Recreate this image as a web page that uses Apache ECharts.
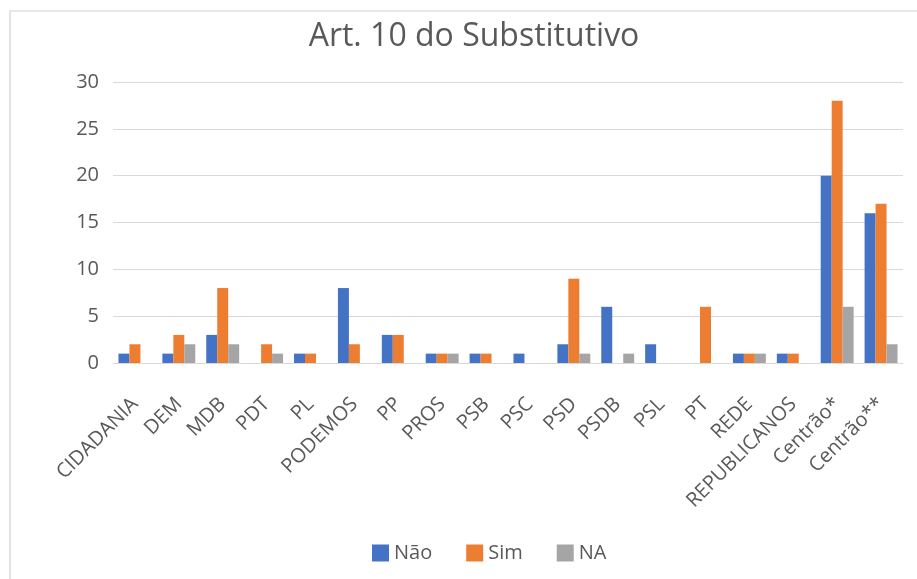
<!DOCTYPE html>
<html>
<head>
<meta charset="utf-8">
<script src="https://cdn.jsdelivr.net/npm/echarts@6/dist/echarts.min.js"></script>
<style>
    html, body {
        margin: 0;
        padding: 0;
        background: #fff;
    }
    .frame {
        position: absolute;
        left: 9px;
        top: 10px;
        right: 0;
        bottom: 0;
        border-left: 2px solid #e3e3e3;
        border-top: 2px solid #e8e8e8;
    }
    #chart {
        position: absolute;
        left: 0;
        top: 0;
        width: 917px;
        height: 579px;
    }
</style>
</head>
<body>
<div class="frame"></div>
<div id="chart"></div>
<script>
const partidos = ['CIDADANIA', 'DEM', 'MDB', 'PDT', 'PL', 'PODEMOS', 'PP', 'PROS', 'PSB', 'PSC',
    'PSD', 'PSDB', 'PSL', 'PT', 'REDE', 'REPUBLICANOS', 'Centrão*', 'Centrão**'];
const nao = [1, 1, 3, 0, 1, 8, 3, 1, 1, 1, 2, 6, 2, 0, 1, 1, 20, 16];
const sim = [2, 3, 8, 2, 1, 2, 3, 1, 1, 0, 9, 0, 0, 6, 1, 1, 28, 17];
const na = [0, 2, 2, 1, 0, 0, 0, 1, 0, 0, 1, 1, 0, 0, 1, 0, 6, 2];
const yTicks = [0, 5, 10, 15, 20, 25, 30];

const chart = echarts.init(document.getElementById('chart'));

function bar(name, data, color) {
    return {
        name: name,
        type: 'bar',
        data: data,
        barGap: '0%',
        barCategoryGap: '25%',
        itemStyle: {color: color},
        emphasis: {disabled: true}
    };
}

chart.setOption({
    animation: false,
    title: {
        text: 'Art. 10 do Substitutivo',
        left: 469,
        top: 16,
        textAlign: 'center',
        textStyle: {
            fontFamily: 'Open Sans',
            fontSize: 32,
            fontWeight: 'normal',
            color: '#595959'
        }
    },
    legend: {
        top: 538,
        left: 367,
        itemWidth: 17,
        itemHeight: 17,
        itemGap: 34,
        icon: 'rect',
        textStyle: {
            fontFamily: 'Open Sans',
            fontSize: 20,
            color: '#595959'
        }
    },
    grid: {
        left: 113,
        right: 14,
        top: 82,
        height: 281,
        containLabel: false
    },
    xAxis: {
        type: 'category',
        data: partidos,
        axisLine: {lineStyle: {color: '#d9d9d9', width: 1}},
        axisTick: {show: false},
        axisLabel: {
            rotate: 45,
            interval: 0,
            margin: 38,
            fontFamily: 'Open Sans',
            fontSize: 20,
            color: '#595959'
        }
    },
    yAxis: {
        type: 'value',
        min: yTicks[0],
        max: yTicks[yTicks.length - 1],
        interval: 5,
        axisLine: {show: false},
        axisTick: {show: false},
        splitLine: {lineStyle: {color: '#d9d9d9', width: 1}},
        axisLabel: {
            margin: 14,
            fontFamily: 'Open Sans',
            fontSize: 20,
            color: '#595959'
        }
    },
    series: [
        bar('Não', nao, '#4472c4'),
        bar('Sim', sim, '#ed7d31'),
        bar('NA', na, '#a5a5a5')
    ]
});
</script>
</body>
</html>
